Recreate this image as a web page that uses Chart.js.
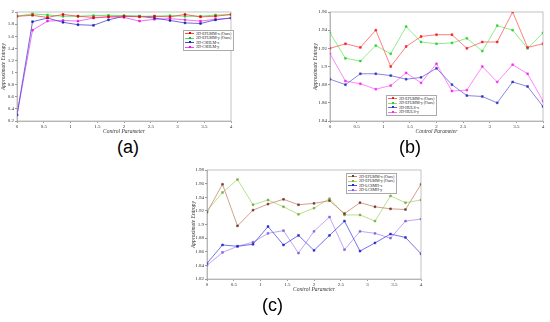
<!DOCTYPE html>
<html>
<head>
<meta charset="utf-8">
<script src="https://cdn.jsdelivr.net/npm/chart.js@4"></script>
<style>
body { margin:0; width:550px; height:322px; background:#fff; position:relative; overflow:hidden; font-family:'Liberation Serif', serif; }
canvas { position:absolute; }
.leg { position:absolute; background:#fff; border:0.5px solid #aaa; font-size:4px; line-height:4.6px; padding:0.5px 2px 0.5px 1px; white-space:nowrap; color:#222; }
.smp { display:inline-block; position:relative; width:9px; height:0.8px; vertical-align:middle; margin-right:2px; }
.smp i { position:absolute; left:3.5px; top:-0.9px; width:2px; height:2px; }
.cap { position:absolute; font-family:'Liberation Sans', sans-serif; font-size:18px; color:#000; }
</style>
</head>
<body>
<canvas id="chA" width="236" height="135" style="left:0;top:0"></canvas>
<canvas id="chB" width="236" height="135" style="left:312;top:0;left:312px"></canvas>
<canvas id="chC" width="236" height="293" style="left:190px;top:0"></canvas>

<div class="leg" id="legA" style="left:183px;top:30px"></div>
<div class="leg" id="legB" style="left:386px;top:95px"></div>
<div class="leg" id="legC" style="left:346px;top:173px"></div>

<div class="cap" style="left:117px;top:137px">(a)</div>
<div class="cap" style="left:399px;top:137px">(b)</div>
<div class="cap" style="left:262px;top:295px">(c)</div>

<script>
// --- Data ---
const xVals = [0, 0.29, 0.57, 0.86, 1.14, 1.43, 1.71, 2, 2.29, 2.57, 2.86, 3.14, 3.43, 3.71, 4];

// (a)
const namesA = ['2D-EFLMM-x (Ours)', '2D-EFLMM-y (Ours)', '2D-CSHLM-x', '2D-CSHLM-y'];
const a_efx = [1.93, 1.945, 1.91, 1.96, 1.93, 1.91, 1.92, 1.93, 1.92, 1.93, 1.92, 1.96, 1.92, 1.93, 1.96];
const a_efy = [1.93, 1.97, 1.95, 1.93, 1.93, 1.94, 1.945, 1.94, 1.93, 1.93, 1.94, 1.93, 1.93, 1.95, 1.955];
const a_csx = [0.30, 1.84, 1.90, 1.83, 1.79, 1.78, 1.87, 1.93, 1.93, 1.90, 1.86, 1.82, 1.81, 1.87, 1.90];
const a_csy = [0.30, 1.70, 1.85, 1.86, 1.85, 1.90, 1.92, 1.91, 1.85, 1.88, 1.89, 1.87, 1.85, 1.88, 1.90];

// (b)
const namesB = ['2D-EFLMM-x (Ours)', '2D-EFLMM-y (Ours)', '2D-HULS-x', '2D-HULS-y'];
const b_efx = [1.920, 1.925, 1.921, 1.940, 1.900, 1.922, 1.933, 1.935, 1.935, 1.920, 1.927, 1.927, 1.960, 1.921, 1.925];
const b_efy = [1.937, 1.909, 1.906, 1.923, 1.914, 1.944, 1.927, 1.925, 1.926, 1.931, 1.917, 1.945, 1.940, 1.920, 1.937];
const b_hux = [1.886, 1.880, 1.892, 1.892, 1.890, 1.886, 1.888, 1.898, 1.880, 1.868, 1.867, 1.860, 1.883, 1.878, 1.856];
const b_huy = [1.914, 1.884, 1.881, 1.875, 1.879, 1.893, 1.882, 1.903, 1.873, 1.874, 1.900, 1.883, 1.902, 1.892, 1.862];

// (c)
const namesC = ['2D-EFLMM-x (Ours)', '2D-EFLMM-y (Ours)', '2D-LCSMH-x', '2D-LCSMH-y'];
const c_efx = [1.918, 1.959, 1.898, 1.921, 1.930, 1.937, 1.929, 1.931, 1.935, 1.916, 1.932, 1.926, 1.923, 1.922, 1.959];
const c_efy = [1.920, 1.947, 1.966, 1.929, 1.936, 1.926, 1.915, 1.924, 1.938, 1.914, 1.914, 1.905, 1.942, 1.932, 1.936];
const c_lcx = [1.843, 1.870, 1.868, 1.871, 1.897, 1.870, 1.884, 1.862, 1.884, 1.905, 1.861, 1.873, 1.886, 1.881, 1.857];
const c_lcy = [1.840, 1.859, 1.868, 1.874, 1.887, 1.891, 1.858, 1.890, 1.911, 1.863, 1.890, 1.887, 1.880, 1.905, 1.908];

// --- Helpers ---
const boxPlugin = {
    id: 'box',
    afterDraw(c) {
        const a = c.chartArea, ctx = c.ctx;
        ctx.save(); ctx.strokeStyle = '#999'; ctx.lineWidth = 0.6;
        ctx.strokeRect(a.left, a.top, a.right - a.left, a.bottom - a.top);
        ctx.restore();
    }
};

const tickFont = { family: 'Liberation Serif', size: 5 };
const titleFont = { family: 'Liberation Serif', size: 5.5, style: 'italic' };

function makeChart(id, series, names, colors, ptColors, y, pad) {
    const ds = series.map((s, i) => ({
        label: names[i],
        data: s.map((v, j) => ({ x: xVals[j], y: v })),
        borderColor: colors[i], backgroundColor: ptColors[i], pointBorderColor: ptColors[i],
        borderWidth: 0.8, pointStyle: 'rect', pointRadius: 1.3, pointBorderWidth: 0.5, tension: 0
    }));
    return new Chart(document.getElementById(id), {
        type: 'line',
        data: { datasets: ds },
        options: {
            responsive: false, animation: false, devicePixelRatio: 1,
            layout: { padding: pad },
            plugins: { legend: { display: false }, tooltip: { enabled: false } },
            scales: {
                x: {
                    type: 'linear', min: 0, max: 4,
                    ticks: { stepSize: 0.5, font: tickFont, color: '#333', padding: 1, maxRotation: 0, callback: v => v },
                    grid: { drawOnChartArea: false, tickLength: 2, color: '#999' },
                    border: { color: '#999', width: 0.6 },
                    title: { display: true, text: 'Control Parameter', font: titleFont, color: '#333', padding: 0 },
                    afterFit: s => { s.height = 14; }
                },
                y: {
                    min: y.min, max: y.max,
                    ticks: { stepSize: y.step, font: tickFont, color: '#333', padding: 1, callback: v => String(+v.toFixed(2)) },
                    grid: { drawOnChartArea: false, tickLength: 2, color: '#999' },
                    border: { color: '#999', width: 0.6 },
                    title: { display: true, text: 'Approximate Entropy', font: titleFont, color: '#333', padding: 0 },
                    afterFit: s => { s.width = y.w; }
                }
            }
        },
        plugins: [boxPlugin]
    });
}

function makeLegend(id, names, colors, ptColors) {
    document.getElementById(id).innerHTML = names.map((n, i) =>
        `<div><span class="smp" style="background:${colors[i]}"><i style="background:${ptColors[i]}"></i></span>${n}</div>`
    ).join('');
}

// --- Build ---
const colA = ['#f04848', '#48e048', '#4848d0', '#f048f0'];
const ptA = ['#e00000', '#20c020', '#2020b0', '#e020e0'];
makeChart('chA', [a_efx, a_efy, a_csx, a_csy], namesA, colA, ptA, { min: 0.2, max: 2, step: 0.2, w: 17 }, { top: 12, right: 5 });
makeLegend('legA', namesA, colA, ptA);

const colB = ['#ff6060', '#70e870', '#6868d8', '#ff68ff'];
const ptB = ['#f02020', '#30d030', '#3030c0', '#f030f0'];
makeChart('chB', [b_efx, b_efy, b_hux, b_huy], namesB, colB, ptB, { min: 1.84, max: 1.96, step: 0.02, w: 18 }, { top: 12, right: 5 });
makeLegend('legB', namesB, colB, ptB);

const colC = ['#c88870', '#a8d870', '#5050e8', '#b090f0'];
const ptC = ['#703830', '#78b040', '#2828c8', '#8060e0'];
makeChart('chC', [c_efx, c_efy, c_lcx, c_lcy], namesC, colC, ptC, { min: 1.82, max: 1.98, step: 0.02, w: 17 }, { top: 170, right: 5 });
makeLegend('legC', namesC, colC, ptC);
</script>
</body>
</html>
